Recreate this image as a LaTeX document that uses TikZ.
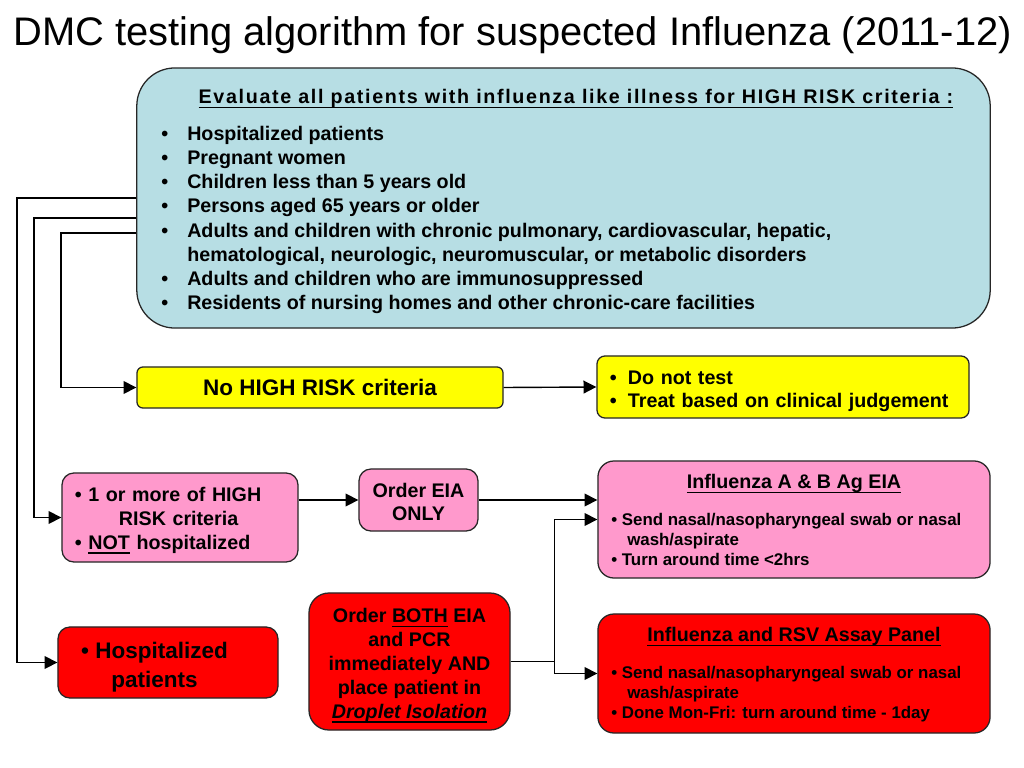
\documentclass[tikz,border=0pt]{standalone}
\usepackage{fontspec}
\setmainfont{Liberation Sans}
\newfontfamily\widesf[LetterSpace=8.4]{Liberation Sans}
\usepackage{xcolor}
\usepackage{tikz}
\usetikzlibrary{positioning,arrows.meta}

\definecolor{evalblue}{RGB}{183,222,228}
\definecolor{pinkfill}{RGB}{255,153,204}
\definecolor{redfill}{RGB}{255,0,0}
\definecolor{ylwfill}{RGB}{255,255,0}
\newcommand{\bul}[1]{\makebox[#1][l]{\textbullet}}
\newsavebox{\ulbox}
\newcommand{\uln}[1]{\sbox{\ulbox}{#1}\rlap{\rule[-3.2pt]{\wd\ulbox}{0.9pt}}\usebox{\ulbox}}

\begin{document}
\begin{tikzpicture}[x=0.025cm, y=-0.025cm,
    blk/.style={draw=black!85, line width=0.9pt, inner sep=0pt,
                font=\bfseries\fontsize{14}{17}\selectfont},
    evl/.style={blk, fill=evalblue, rounded corners=0.95cm},
    ylw/.style={blk, fill=ylwfill, rounded corners=0.2cm},
    pnk/.style={blk, fill=pinkfill, rounded corners=0.3cm},
    rd/.style={blk, fill=redfill, rounded corners=0.35cm},
    txt/.style={inner sep=0pt, align=left, font=\bfseries\fontsize{14}{17}\selectfont},
    small/.style={txt, font=\bfseries\fontsize{12}{14.2}\selectfont},
    arr/.style={-{Triangle[length=3.2mm, width=3.2mm]}, line width=1pt}
  ]
  \useasboundingbox (0,0) rectangle (1024,768);

  % Title.
  \node[anchor=base west, inner sep=0pt, font=\fontsize{28.35}{32}\selectfont] (title) at (13,46)
    {DMC testing algorithm for suspected Influenza (2011-12)};

  % High risk criteria.
  \node[evl, minimum width=21.33cm, minimum height=6.5cm] (eval) at (563.5,198) {};
  \node[txt, font=\widesf\bfseries\fontsize{14}{17}\selectfont] (evalhd) at (576,99)
    {\uln{Evaluate all patients with influenza like illness for HIGH RISK criteria :}};
  \node[txt, anchor=west, font=\bfseries\fontsize{14}{17.2}\selectfont] (evallist) at (161,220)
    {\bul{0.65cm}Hospitalized patients\\
     \bul{0.65cm}Pregnant women\\
     \bul{0.65cm}Children less than 5 years old\\
     \bul{0.65cm}Persons aged 65 years or older\\
     \bul{0.65cm}Adults and children with chronic pulmonary, cardiovascular, hepatic,\\
     \hspace*{0.65cm}hematological, neurologic, neuromuscular, or metabolic disorders\\
     \bul{0.65cm}Adults and children who are immunosuppressed\\
     \bul{0.65cm}Residents of nursing homes and other chronic-care facilities};

  % No high risk.
  \node[ylw, minimum width=9.15cm, minimum height=1.025cm, rounded corners=0.15cm,
        font=\bfseries\fontsize{16}{19}\selectfont] (norisk) at (320,387.5) {No HIGH RISK criteria};
  \node[ylw, minimum width=9.3cm, minimum height=1.55cm, text width=8.65cm, inner xsep=0.325cm,
        align=left] (notest) at (783,387)
    {\rule{0pt}{15.7pt}\bul{0.45cm}Do not test\\ \bul{0.45cm}Treat based on clinical judgement};

  % Not hospitalized.
  \node[pnk, minimum width=5.9cm, minimum height=2.225cm, text width=5.25cm, inner xsep=0.325cm,
        align=left] (onemore) at (180,517.5)
    {\rule{0pt}{14pt}\textbullet\ 1 or more of HIGH\\ \hspace*{1.1cm}RISK criteria\\ \textbullet\ \uln{NOT} hospitalized};
  \node[pnk, minimum width=2.975cm, minimum height=1.55cm, align=center,
        font=\bfseries\fontsize{14}{16.4}\selectfont] (ordeia) at (418.5,500) {\rule{0pt}{12.8pt}Order EIA\\ONLY};
  \node[pnk, minimum width=9.8cm, minimum height=2.925cm, rounded corners=0.4cm] (eiaab) at (794,519.5) {};
  \node[txt] (eiahd) at (794,484) {\uln{Influenza A \& B Ag EIA}};
  \node[small, anchor=west] (eialist) at (611,539)
    {\textbullet\ Send nasal/nasopharyngeal swab or nasal\\
     \hspace*{0.4cm}wash/aspirate\\
     \textbullet\ Turn around time <2hrs};

  % Hospitalized.
  \node[rd, minimum width=5.5cm, minimum height=1.775cm, rounded corners=0.3cm] (hosp) at (168,662.5) {};
  \node[txt, align=center, font=\bfseries\fontsize{16}{20.6}\selectfont] (hosptxt) at (154.5,667)
    {\textbullet\ Hospitalized\\patients};
  \node[rd, minimum width=5.025cm, minimum height=3.425cm, rounded corners=0.5cm, align=center] (both) at (409.5,661.5)
    {\rule{0pt}{15.7pt}Order \uln{BOTH} EIA\\and PCR\\immediately AND\\place patient in\\\textit{\uln{Droplet Isolation}}};
  \node[rd, minimum width=9.8cm, minimum height=2.975cm, rounded corners=0.4cm] (rsv) at (794,673.5) {};
  \node[txt] (rsvhd) at (794,637) {\uln{Influenza and RSV Assay Panel}};
  \node[small, anchor=west] (rsvlist) at (611,694)
    {\textbullet\ Send nasal/nasopharyngeal swab or nasal\\
     \hspace*{0.4cm}wash/aspirate\\
     \textbullet\ Done Mon-Fri: turn around time - 1day};

  % Connectors.
  \draw[arr] (eval.west) -- ++(-119,0) |- (hosp.west);
  \draw[arr] ([yshift=-0.5cm]eval.west) -- ++(-102,0) |- (onemore.west);
  \draw[arr] ([yshift=-0.875cm]eval.west) -- ++(-75,0) |- (norisk.west);
  \draw[arr] (norisk.east) -- (notest.west);
  \draw[arr] (onemore.east |- ordeia.west) -- (ordeia.west);
  \draw[arr] (ordeia.east) -- (ordeia.east -| eiaab.west);
  \draw[arr] (both.east) -- ++(44,0) coordinate (split) |- (eiaab.west);
  \draw[arr] (split) |- (rsv.west);
\end{tikzpicture}
\end{document}
